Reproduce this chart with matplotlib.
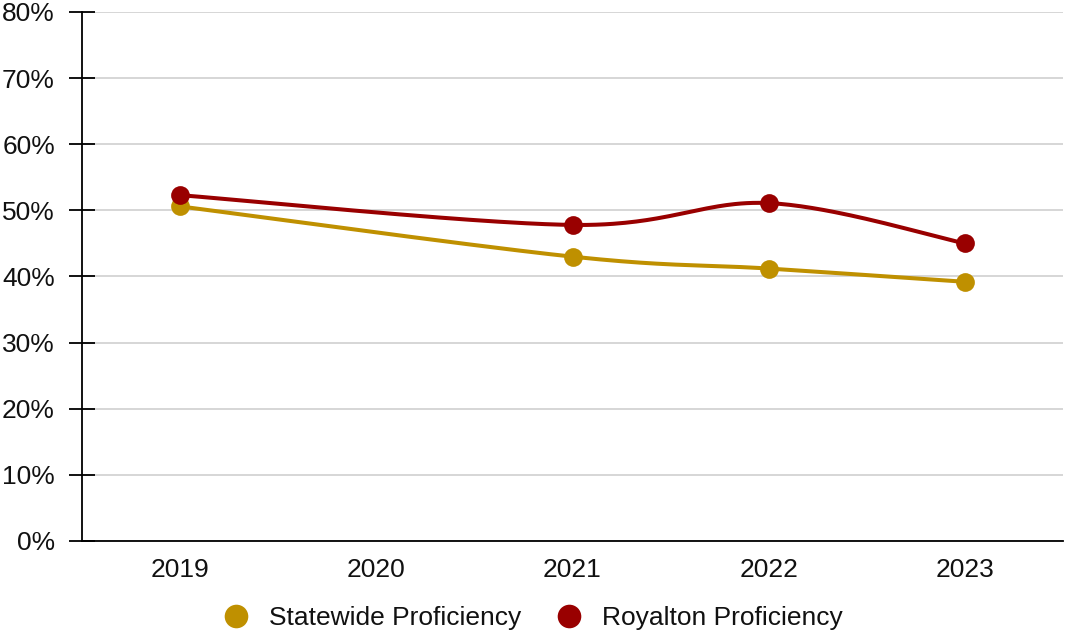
import numpy as np
import matplotlib
matplotlib.use("Agg")
import matplotlib.pyplot as plt
from matplotlib.lines import Line2D
from matplotlib.ticker import FuncFormatter, MultipleLocator

plt.rcParams["font.family"] = ["Liberation Sans", "DejaVu Sans"]

# Proficiency (%) by school year; no assessment data for 2020
years = ["2019", "2020", "2021", "2022", "2023"]
statewide = [50.6, None, 43.0, 41.2, 39.2]
royalton = [52.3, None, 47.8, 51.1, 45.0]

series_names = ["Statewide Proficiency", "Royalton Proficiency"]
series_colors = ["#bf9000", "#990000"]


def smooth_curve(xs, ys, samples=60):
    """Catmull-Rom style cubic Bezier through the given points."""
    pts = np.column_stack([xs, ys]).astype(float)
    n = len(pts)
    out = [pts[0:1]]
    for i in range(n - 1):
        p0 = pts[i - 1] if i > 0 else pts[i]
        p1 = pts[i]
        p2 = pts[i + 1]
        p3 = pts[i + 2] if i + 2 < n else pts[i + 1]
        c1 = p1 + (p2 - p0) / 6.0
        c2 = p2 - (p3 - p1) / 6.0
        t = np.linspace(0, 1, samples)[1:, None]
        seg = ((1 - t) ** 3) * p1 + 3 * ((1 - t) ** 2) * t * c1 \
            + 3 * (1 - t) * t ** 2 * c2 + t ** 3 * p2
        out.append(seg)
    curve = np.vstack(out)
    return curve[:, 0], curve[:, 1]


fig = plt.figure(figsize=(10.65, 6.31), dpi=100)
ax = fig.add_axes([82 / 1065, 90 / 631, (1063 - 82) / 1065, (541 - 12) / 631])

x_idx = np.arange(len(years))
for vals, color in zip([statewide, royalton], series_colors):
    xs = [x for x, v in zip(x_idx, vals) if v is not None]
    ys = [v for v in vals if v is not None]
    cx, cy = smooth_curve(xs, ys)
    ax.plot(cx, cy, color=color, lw=2.9, solid_capstyle="round", zorder=3)
    ax.plot(xs, ys, "o", color=color, ms=13.5, mec="none", zorder=4)

ax.set_xlim(-0.5, len(years) - 0.5)
ax.set_ylim(0, 80)
ax.set_xticks(x_idx)
ax.set_xticklabels(years)
ax.yaxis.set_major_locator(MultipleLocator(10))
ax.yaxis.set_major_formatter(FuncFormatter(lambda v, _: f"{v:.0f}%"))

ax.grid(axis="y", color="#cccccc", lw=1.1)
ax.set_axisbelow(True)
for side in ["top", "right"]:
    ax.spines[side].set_visible(False)
for side in ["left", "bottom"]:
    ax.spines[side].set_color("black")
    ax.spines[side].set_linewidth(1.3)

ax.tick_params(axis="y", direction="inout", length=19, width=1.3,
               labelsize=19, pad=10, colors="black", labelcolor="#111111")
ax.tick_params(axis="x", length=0, labelsize=19, pad=12, labelcolor="#111111")

handles = [Line2D([], [], ls="none", marker="o", ms=17, color=c, mec="none")
           for c in series_colors]
fig.legend(handles, series_names, loc="center", ncol=2,
           bbox_to_anchor=(533 / 1065, 13 / 631), frameon=False,
           fontsize=19, handlelength=1.0, handletextpad=0.75,
           columnspacing=1.3, borderaxespad=0, borderpad=0,
           labelcolor="#111111")

fig.savefig("out.png", dpi=100)
